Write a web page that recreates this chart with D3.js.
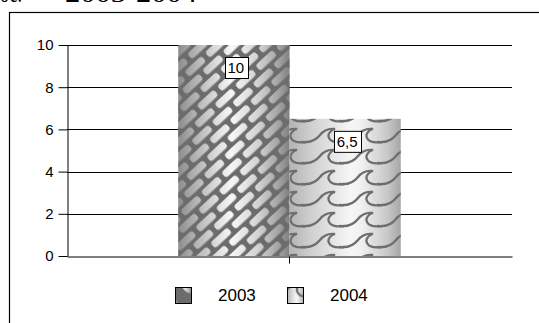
<!DOCTYPE html>
<html>
<head>
<meta charset="utf-8">
<script src="https://cdn.jsdelivr.net/npm/d3@7/dist/d3.min.js"></script>
<style>
  html, body { margin: 0; padding: 0; background: #fff; }
  svg { display: block; }
</style>
</head>
<body>
<svg id="chart" width="539" height="323"></svg>
<script>
// Chart data
const categories = [""];
const seriesNames = ["2003", "2004"];
const seriesValues = [10, 6.5];
const valueLabels = ["10", "6,5"];
const yTicks = [0, 2, 4, 6, 8, 10];
const titleParts = ["ос.", "2003-2004"];

const W = 539, H = 323;
const svg = d3.select("#chart");
const defs = svg.append("defs");

// Shaded cylinder-like banding behind each fill pattern
function bandGradient(id, stops) {
  const g = defs.append("linearGradient").attr("id", id)
    .attr("x1", 0).attr("x2", 1).attr("y1", 0).attr("y2", 0);
  stops.forEach(([o, c]) => g.append("stop").attr("offset", o).attr("stop-color", c));
}
bandGradient("shade2003", [[0, "#8c8c8c"], [0.12, "#ababab"], [0.38, "#e4e4e4"], [0.48, "#f6f6f6"], [0.72, "#d2d2d2"], [0.9, "#a4a4a4"], [1, "#808080"]]);
bandGradient("shade2004", [[0, "#b4b4b4"], [0.2, "#d0d0d0"], [0.55, "#f6f6f6"], [0.65, "#f0f0f0"], [0.88, "#c8c8c8"], [1, "#a6a6a6"]]);

// Brick layout inside one tile (two staggered courses)
const TILE_W = 28, TILE_H = 22;
const bricks = [[2, 2], [-12, 13], [16, 13]];
const BRICK_W = 23, BRICK_H = 7.5;

// Luminance pattern: mortar white (shown), bricks black (hidden)
function mortarPattern(id, scale, dx, dy) {
  const p = defs.append("pattern").attr("id", id)
    .attr("patternUnits", "userSpaceOnUse")
    .attr("width", TILE_W).attr("height", TILE_H)
    .attr("patternTransform", `translate(${dx},${dy}) rotate(-43) scale(${scale})`);
  p.append("rect").attr("width", TILE_W).attr("height", TILE_H).attr("fill", "#fff");
  bricks.forEach(([x, y]) => p.append("rect")
    .attr("x", x).attr("y", y).attr("width", BRICK_W).attr("height", BRICK_H)
    .attr("rx", 3).attr("fill", "#000"));
}
function mortarMask(id, patId) {
  const m = defs.append("mask").attr("id", id).attr("maskContentUnits", "userSpaceOnUse");
  m.append("rect").attr("x", 0).attr("y", 0).attr("width", W).attr("height", H)
    .attr("fill", `url(#${patId})`);
}
mortarPattern("mortar", 1, 0, 0);
mortarPattern("mortarBig", 2.6, 170, 282);
mortarMask("mortarMask", "mortar");
mortarMask("mortarMaskBig", "mortarBig");

// Wave pattern: curling waves drawn as dark strokes
function wavePattern(id, scale, dx, dy) {
  const p = defs.append("pattern").attr("id", id)
    .attr("patternUnits", "userSpaceOnUse")
    .attr("width", 38).attr("height", 21)
    .attr("patternTransform", `translate(${dx},${dy}) scale(${scale})`);
  const d = "M-2,16 C6,17 12,14 16,9 C19,5 24,2 31,3 C27,4 23,8 25,12 C27,16 33,17 40,16";
  [0, -38, 38].forEach(ox => [0, -21, 21].forEach(oy =>
    p.append("path").attr("d", d)
      .attr("transform", `translate(${ox},${oy})`)
      .attr("fill", "none").attr("stroke", "#6e6e6e").attr("stroke-width", 2.3 / Math.sqrt(scale))
      .attr("stroke-linecap", "round")));
}
wavePattern("waves", 1, 0, 0);
wavePattern("wavesBig", 1.1, 270, 279);

// Title, partly above the visible area
svg.append("text").attr("x", 0).attr("y", 2)
  .attr("font-family", "Liberation Serif, serif").attr("font-size", 26)
  .attr("textLength", 22).attr("lengthAdjust", "spacingAndGlyphs")
  .text(titleParts[0]);
svg.append("text").attr("x", 65).attr("y", 2)
  .attr("font-family", "Liberation Serif, serif").attr("font-size", 26)
  .attr("textLength", 132).attr("lengthAdjust", "spacingAndGlyphs")
  .text(titleParts[1]);

// Outer frame
svg.append("rect").attr("x", 9.5).attr("y", 12.5).attr("width", 700).attr("height", 500)
  .attr("fill", "none").attr("stroke", "#000").attr("stroke-width", 1.2);

// Scales
const plot = { left: 67, right: 512, top: 45, bottom: 256 };
const y = d3.scaleLinear().domain([0, 10]).range([plot.bottom, plot.top]);
const x0 = d3.scaleBand().domain(categories).range([plot.left, plot.right])
  .paddingInner(0).paddingOuter(0.5);
const x1 = d3.scaleBand().domain(seriesNames).range([0, x0.bandwidth()]);

// Gridlines
svg.append("g").selectAll("line").data(yTicks.filter(t => t > 0)).join("line")
  .attr("x1", plot.left).attr("x2", plot.right)
  .attr("y1", d => Math.round(y(d)) + 0.5).attr("y2", d => Math.round(y(d)) + 0.5)
  .attr("stroke", "#000").attr("stroke-width", 1);

// Fill layers per series: shading underneath, texture on top
function paintTexture(sel, s, big) {
  if (s === "2003") {
    sel.attr("fill", "#6c6c6c").attr("mask", `url(#${big ? "mortarMaskBig" : "mortarMask"})`);
  } else {
    sel.attr("fill", `url(#${big ? "wavesBig" : "waves"})`);
  }
}

// Bars
const barG = svg.append("g");
seriesNames.forEach((s, i) => {
  const bx = x0(categories[0]) + x1(s);
  const by = y(seriesValues[i]);
  const bw = x1.bandwidth(), bh = y(0) - by;
  barG.append("rect").attr("x", bx).attr("y", by).attr("width", bw).attr("height", bh)
    .attr("fill", `url(#shade${s})`);
  paintTexture(barG.append("rect").attr("x", bx).attr("y", by).attr("width", bw).attr("height", bh), s, false);
});

// Value labels
seriesNames.forEach((s, i) => {
  const cx = x0(categories[0]) + x1(s) + x1.bandwidth() / 2 + 2;
  const top = y(seriesValues[i]) + 12;
  const g = svg.append("g");
  const t = g.append("text").attr("x", cx).attr("y", top + 16)
    .attr("text-anchor", "middle")
    .attr("font-family", "Liberation Sans, Arial, sans-serif").attr("font-size", 15)
    .text(valueLabels[i]);
  const bb = t.node().getBBox();
  g.insert("rect", "text")
    .attr("x", Math.round(bb.x - 3) + 0.5).attr("y", top + 0.5)
    .attr("width", Math.round(bb.width + 6)).attr("height", 21)
    .attr("fill", "#fff").attr("stroke", "#000").attr("stroke-width", 1);
});

// Y axis
const yAxis = d3.axisLeft(y).tickValues(yTicks).tickSize(9).tickSizeOuter(0).tickPadding(5);
const yg = svg.append("g").attr("transform", `translate(${plot.left + 0.5},0)`).call(yAxis);
yg.select(".domain").attr("stroke", "#000");
yg.selectAll(".tick line").attr("stroke", "#000");
yg.selectAll(".tick text").attr("font-family", "Liberation Sans, Arial, sans-serif")
  .attr("font-size", 15).attr("fill", "#000");

// X axis (single category, no label)
const xAxis = d3.axisBottom(x0).tickSize(7).tickSizeOuter(0).tickFormat(() => "");
const xg = svg.append("g").attr("transform", `translate(0,${plot.bottom + 0.5})`).call(xAxis);
xg.select(".domain").attr("stroke", "#000");
xg.selectAll(".tick line").attr("stroke", "#000");

// Legend
const legendX = [175, 287];
seriesNames.forEach((s, i) => {
  const g = svg.append("g");
  const lx = legendX[i], ly = 287;
  g.append("rect").attr("x", lx + 0.5).attr("y", ly + 0.5).attr("width", 16).attr("height", 16)
    .attr("fill", `url(#shade${s})`);
  paintTexture(g.append("rect").attr("x", lx + 0.5).attr("y", ly + 0.5).attr("width", 16).attr("height", 16), s, true);
  g.append("rect").attr("x", lx + 0.5).attr("y", ly + 0.5).attr("width", 16).attr("height", 16)
    .attr("fill", "none").attr("stroke", "#000").attr("stroke-width", 1);
  g.append("text").attr("x", lx + 43).attr("y", ly + 14)
    .attr("font-family", "Liberation Sans, Arial, sans-serif").attr("font-size", 17)
    .text(s);
});
</script>
</body>
</html>
